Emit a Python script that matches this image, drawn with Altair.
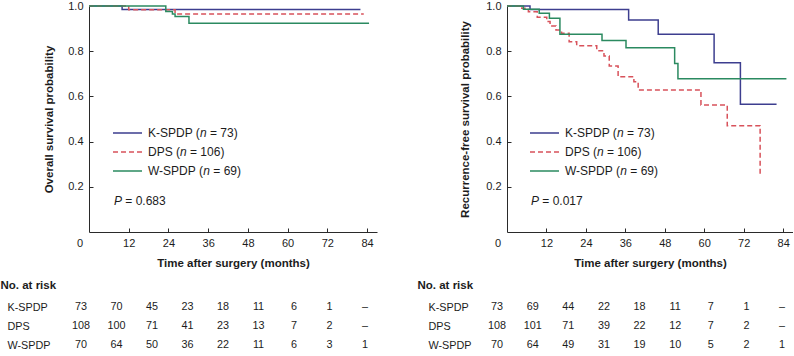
import altair as alt
import pandas as pd

FONT = "Liberation Sans"
INK = "#1c1c1c"
AXIS_INK = "#2a2a2a"

series_names = ["K-SPDP", "DPS", "W-SPDP"]
series_n = [73, 106, 69]
series_colors = ["#3d3e8f", "#d8525b", "#2b8a60"]
series_dash = [[1, 0], [5, 3], [1, 0]]

# Overall survival: event times (months) and Kaplan-Meier estimates
os_kspdp_time = [0, 10, 82]
os_kspdp_surv = [1.0, 0.984, 0.984]
os_dps_time = [0, 12, 26, 83]
os_dps_surv = [1.0, 0.983, 0.965, 0.965]
os_wspdp_time = [0, 23.2, 25.2, 26, 30.2, 84.6]
os_wspdp_surv = [1.0, 0.976, 0.965, 0.953, 0.924, 0.924]

# Recurrence-free survival
rfs_kspdp_time = [0, 7, 37, 46, 63, 71, 82]
rfs_kspdp_surv = [1.0, 0.984, 0.938, 0.875, 0.749, 0.565, 0.565]
rfs_dps_time = [0, 4.5, 6.5, 9.2, 12.1, 13.1, 14.9, 16.6, 18.9, 21.2, 27.3,
                29.5, 31.1, 33.8, 38.6, 39.9, 59, 67, 77]
rfs_dps_surv = [1.0, 0.99, 0.975, 0.95, 0.931, 0.912, 0.894, 0.879, 0.842, 0.824,
                0.802, 0.779, 0.735, 0.687, 0.665, 0.628, 0.562, 0.47, 0.25]
rfs_wspdp_time = [0, 5, 9.8, 12.9, 16.1, 28.9, 36.2, 51, 52, 85]
rfs_wspdp_surv = [1.0, 0.986, 0.968, 0.946, 0.875, 0.847, 0.815, 0.746, 0.678, 0.678]

x_ticks = [12, 24, 36, 48, 60, 72, 84]
y_ticks = [0.2, 0.4, 0.6, 0.8, 1.0]

# Numbers at risk every 12 months
os_risk_kspdp = ["73", "70", "45", "23", "18", "11", "6", "1", "–"]
os_risk_dps = ["108", "100", "71", "41", "23", "13", "7", "2", "–"]
os_risk_wspdp = ["70", "64", "50", "36", "22", "11", "6", "3", "1"]
rfs_risk_kspdp = ["73", "69", "44", "22", "18", "11", "7", "1", "–"]
rfs_risk_dps = ["108", "101", "71", "39", "22", "12", "7", "2", "–"]
rfs_risk_wspdp = ["70", "64", "49", "31", "19", "10", "5", "2", "1"]

os_p = "0.683"
rfs_p = "0.017"

# Arial-metric advance widths (per 1000 em) for the legend strings
GLYPH_W = {c: 556 for c in "0123456789n"}
GLYPH_W.update({" ": 278, "=": 584, "(": 333, ")": 333, ".": 278, "-": 333,
                "K": 667, "S": 667, "P": 667, "D": 722, "W": 944})


def text_w(s, size):
    return sum(GLYPH_W[c] for c in s) * size / 1000.0


H = 226
X_TITLE = "Time after surgery (months)"


def x_axis():
    return alt.Axis(values=x_ticks, title=X_TITLE, grid=False,
                    tickSize={"expr": "-4"}, labelPadding=9.5, titlePadding=9,
                    labelFontSize=11, titleFontSize=11.5, titleFontWeight="bold")


def rich_label(df, x, y, parts, size=12):
    """Left-aligned text built from (string, italic) pieces placed side by side."""
    layers = []
    off = 0.0
    for s, italic in parts:
        lead = len(s) - len(s.lstrip(" "))
        off += text_w(" " * lead, size)
        s = s.lstrip(" ")
        kw = dict(text=s, font=FONT, fontSize=size, color=INK, align="left",
                  baseline="middle", dx=off)
        if italic:
            kw["fontStyle"] = "italic"
        layers.append(alt.Chart(df).mark_text(**kw).encode(x=alt.value(x), y=alt.value(y)))
        off += text_w(s, size)
    return layers


def km_panel(times, survs, width, y_title, title_pad, p_value, leg_x0):
    rows = []
    for name, t, s in zip(series_names, times, survs):
        for ti, si in zip(t, s):
            rows.append({"series": name, "time": ti, "surv": si})
    df = pd.DataFrame(rows)

    x_scale = alt.Scale(domain=[0, 87], nice=False, zero=False)
    y_axis = alt.Axis(values=y_ticks, format=".1f", title=y_title, grid=False,
                      tickSize={"expr": "-4"}, labelPadding=10, titlePadding=title_pad,
                      labelFontSize=11, titleFontSize=11.5, titleFontWeight="bold")

    curves = alt.Chart(df).mark_line(interpolate="step-after", strokeWidth=1.5).encode(
        x=alt.X("time:Q", scale=x_scale, axis=x_axis()),
        y=alt.Y("surv:Q", scale=alt.Scale(domain=[0, 1], nice=False), axis=y_axis),
        color=alt.Color("series:N", scale=alt.Scale(domain=series_names, range=series_colors),
                        legend=None),
        strokeDash=alt.StrokeDash("series:N",
                                  scale=alt.Scale(domain=series_names, range=series_dash),
                                  legend=None),
    )

    # the shared origin label sits just left of the y axis
    origin = alt.Chart(pd.DataFrame({"time": [0], "lab": ["0"]})).mark_text(
        font=FONT, fontSize=11, color=INK, baseline="top", dx=-9
    ).encode(x=alt.X("time:Q", scale=x_scale, axis=x_axis()),
             y=alt.value(H + 5.5), text="lab:N")

    layers = [curves, origin]
    leg_y = [127, 146, 165]
    for name, n, col, dash, y in zip(series_names, series_n, series_colors, series_dash, leg_y):
        one = pd.DataFrame({"series": [name]})
        layers.append(alt.Chart(one).mark_rule(color=col, strokeDash=dash, strokeWidth=1.5).encode(
            x=alt.value(leg_x0), x2=alt.value(leg_x0 + 29), y=alt.value(y)))
        layers += rich_label(one, leg_x0 + 35, y,
                             [(f"{name} (", False), ("n", True), (f" = {n})", False)])
    layers += rich_label(pd.DataFrame({"p": [p_value]}), leg_x0 + 1, 195,
                         [("P", True), (f" = {p_value}", False)])
    return alt.layer(*layers).properties(width=width, height=H)


def risk_table(counts, width, col_dx, label_pad, title_x):
    rows = []
    for name, vals in zip(series_names, counts):
        for j, v in enumerate(vals):
            rows.append({"series": name, "col": j, "n": v})
    df = pd.DataFrame(rows)
    return alt.Chart(df).mark_text(
        font=FONT, fontSize=10.8, color=INK, baseline="middle", dx=col_dx
    ).encode(
        x=alt.X("col:O", scale=alt.Scale(type="point", padding=0), axis=None),
        y=alt.Y("series:N", sort=series_names, scale=alt.Scale(type="point", padding=0),
                axis=alt.Axis(title="No. at risk", domain=False, ticks=False, tickSize=0,
                              labelAlign="left", labelBaseline="middle", labelPadding=label_pad,
                              labelFontSize=10.8, labelColor=INK,
                              titleAngle=0, titleAlign="left", titleBaseline="middle",
                              titleX=title_x, titleY=-22, titleFontSize=11.5,
                              titleFontWeight="bold")),
        text="n:N",
    ).properties(width=width, height=38)


left = alt.vconcat(
    km_panel([os_kspdp_time, os_dps_time, os_wspdp_time],
             [os_kspdp_surv, os_dps_surv, os_wspdp_surv],
             288, "Overall survival probability", 13, os_p, 24),
    risk_table([os_risk_kspdp, os_risk_dps, os_risk_wspdp], 284, -8, 82, -89),
    spacing=10,
)
right = alt.vconcat(
    km_panel([rfs_kspdp_time, rfs_dps_time, rfs_wspdp_time],
             [rfs_kspdp_surv, rfs_dps_surv, rfs_wspdp_surv],
             286, "Recurrence-free survival probability", 15, rfs_p, 23),
    risk_table([rfs_risk_kspdp, rfs_risk_dps, rfs_risk_wspdp], 285, -10, 79, -90),
    spacing=10,
)

chart = alt.hconcat(left, right, spacing=40).properties(
    padding={"left": 0, "top": 0, "right": 0, "bottom": 0}
).configure(font=FONT, background="white").configure_view(stroke=None).configure_axis(
    labelFont=FONT, titleFont=FONT, labelColor=INK, titleColor=INK,
    domainColor=AXIS_INK, tickColor=AXIS_INK, domainWidth=1, tickWidth=1,
)

chart.save("out.html", embed_options={"renderer": "svg", "actions": False})
